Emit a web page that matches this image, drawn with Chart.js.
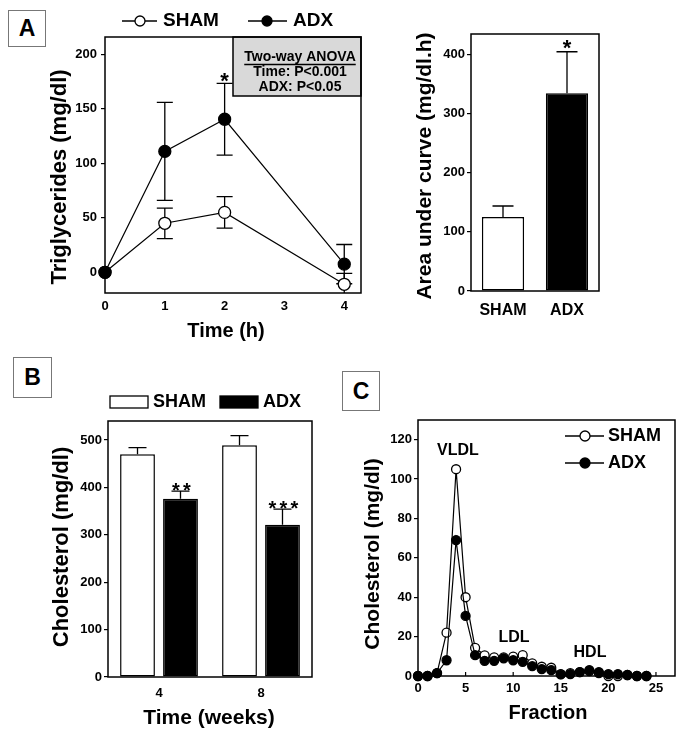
<!DOCTYPE html>
<html><head><meta charset="utf-8">
<script src="https://cdn.jsdelivr.net/npm/chart.js@4.4.0/dist/chart.umd.min.js"></script>
<style>
body{margin:0;background:#fff;width:683px;height:737px;position:relative;overflow:hidden;font-family:'Liberation Sans',Arial,sans-serif;}
canvas{position:absolute;}
.lbl{position:absolute;border:1px solid #777;background:#fff;font-weight:bold;font-size:23px;display:flex;align-items:center;justify-content:center;box-sizing:border-box;font-family:'Liberation Sans',Arial,sans-serif;}
</style></head><body>
<canvas id="cA" width="372" height="345" style="left:0;top:0"></canvas>
<canvas id="cAUC" width="311" height="345" style="left:372px;top:0"></canvas>
<canvas id="cB" width="340" height="382" style="left:0;top:355px"></canvas>
<canvas id="cC" width="343" height="382" style="left:340px;top:355px"></canvas>
<div class="lbl" style="left:8px;top:10px;width:38px;height:37px">A</div>
<div class="lbl" style="left:13px;top:357px;width:39px;height:41px">B</div>
<div class="lbl" style="left:342px;top:371px;width:38px;height:40px">C</div>
<script>
// ---- Data ----
const timeH = [0, 1, 2, 4];
const shamTG = [0, 45, 55, -11];
const shamTGErr = [0, 14, 14.5, 10];
const adxTG = [0, 111, 140.5, 7.5];
const adxTGErr = [0, 45, 33, 18];
const tgTicksX = [0, 1, 2, 3, 4];
const tgTicksY = [0, 50, 100, 150, 200];

const aucGroups = ['SHAM', 'ADX'];
const aucValues = [125, 334];
const aucErr = [18.5, 70];
const aucTicks = [0, 100, 200, 300, 400];

const weekLabels = ['4', '8'];
const shamChol = [470, 489];
const shamCholErr = [14, 20];
const adxChol = [376, 321];
const adxCholErr = [16, 33];
const cholTicks = [0, 100, 200, 300, 400, 500];

const fractions = [0,1,2,3,4,5,6,7,8,9,10,11,12,13,14,15,16,17,18,19,20,21,22,23,24];
const shamFrac = [0,0,1.5,22,105,40,14.3,10.5,9.5,9.5,9.8,10.6,6.4,4.7,4.2,1,1.5,2,2.5,1.5,0,0,0.5,0,0];
const adxFrac  = [0,0,1.5,8,69,30.5,10.6,7.7,7.7,9,8,7.2,5,3.5,3,0.8,1,2,3,2,1,1,0.5,0,0];
const fracTicksX = [0, 5, 10, 15, 20, 25];
const fracTicksY = [0, 20, 40, 60, 80, 100, 120];

// ---- Helpers ----
const FF = "'Liberation Sans', Arial, Helvetica, sans-serif";
Chart.defaults.font.family = FF;
Chart.defaults.font.weight = 'bold';
Chart.defaults.font.size = 13;
Chart.defaults.color = '#000';

function txt(ctx, s, x, y, size, o = {}) {
  ctx.save();
  ctx.font = `bold ${size}px ${FF}`;
  ctx.fillStyle = '#000';
  ctx.textAlign = o.align || 'center';
  ctx.textBaseline = o.baseline || 'middle';
  ctx.translate(x, y);
  if (o.rot) ctx.rotate(o.rot);
  ctx.fillText(s, 0, 0);
  ctx.restore();
}
function star(ctx, x, cy, size) { txt(ctx, '*', x, cy + 0.57 * size, size, {baseline: 'alphabetic'}); }
function frame(chart) {
  const {ctx, chartArea: a} = chart;
  ctx.save(); ctx.strokeStyle = '#000'; ctx.lineWidth = 1.5;
  ctx.strokeRect(a.left, a.top, a.right - a.left, a.bottom - a.top); ctx.restore();
}
function errBar(ctx, x, y0, y1, cap) {
  ctx.save(); ctx.strokeStyle = '#000'; ctx.lineWidth = 1.3;
  ctx.beginPath(); ctx.moveTo(x, y0); ctx.lineTo(x, y1);
  ctx.moveTo(x - cap, y1); ctx.lineTo(x + cap, y1); ctx.stroke(); ctx.restore();
}
function marker(ctx, x, y, r, filled) {
  ctx.save(); ctx.beginPath(); ctx.arc(x, y, r, 0, Math.PI * 2);
  ctx.fillStyle = filled ? '#000' : '#fff'; ctx.fill();
  ctx.lineWidth = 1.3; ctx.strokeStyle = '#000'; ctx.stroke(); ctx.restore();
}
function hline(ctx, x0, x1, y) {
  ctx.save(); ctx.strokeStyle = '#000'; ctx.lineWidth = 1.3;
  ctx.beginPath(); ctx.moveTo(x0, y); ctx.lineTo(x1, y); ctx.stroke(); ctx.restore();
}
const setTicks = arr => s => { s.ticks = arr.map(v => ({value: v})); };
const yGrid = {display: true, drawOnChartArea: false, drawTicks: true, tickLength: 4, color: '#000', lineWidth: 1.2};
const noGrid = {display: false, drawTicks: false};
const noBorder = {display: false};
const baseOpts = (pad) => ({
  responsive: false, animation: false, events: [],
  layout: {padding: pad},
  plugins: {legend: {display: false}, tooltip: {enabled: false}}
});
const lineDs = (label, xs, ys, filled, r, order) => ({
  label, data: xs.map((x, i) => ({x, y: ys[i]})), order,
  borderColor: '#000', borderWidth: 1.2, tension: 0, clip: false,
  pointRadius: r, pointBorderWidth: 1.3, pointBorderColor: '#000',
  pointBackgroundColor: filled ? '#000' : '#fff'
});

// ---- Panel A: triglycerides time course ----
new Chart(document.getElementById('cA'), {
  type: 'line',
  data: {datasets: [
    lineDs('ADX', timeH, adxTG, true, 6, 0),
    lineDs('SHAM', timeH, shamTG, false, 6, 1)
  ]},
  options: Object.assign(baseOpts({left: 0, top: 37, right: 11, bottom: 0}), {
    scales: {
      x: {type: 'linear', min: 0, max: 4.28, afterBuildTicks: setTicks(tgTicksX),
          afterFit: s => { s.height = 52; }, grid: noGrid, border: noBorder,
          ticks: {padding: 6, font: {size: 13, weight: 'bold'}}},
      y: {type: 'linear', min: -19, max: 216, afterBuildTicks: setTicks(tgTicksY),
          afterFit: s => { s.width = 105; }, grid: yGrid, border: noBorder,
          ticks: {padding: 4, font: {size: 13, weight: 'bold'}}}
    }
  }),
  plugins: [{
    id: 'decA',
    beforeDatasetsDraw(chart) {
      const {ctx, chartArea: a, scales: {x, y}} = chart;
      ctx.save(); ctx.beginPath(); ctx.rect(a.left, a.top, a.right - a.left, a.bottom - a.top); ctx.clip();
      [[shamTG, shamTGErr], [adxTG, adxTGErr]].forEach(([v, e]) => {
        v.forEach((val, i) => {
          if (!e[i]) return;
          const px = x.getPixelForValue(timeH[i]);
          errBar(ctx, px, y.getPixelForValue(val), y.getPixelForValue(val + e[i]), 8);
          errBar(ctx, px, y.getPixelForValue(val), y.getPixelForValue(val - e[i]), 8);
        });
      });
      ctx.restore();
    },
    afterDraw(chart) {
      const {ctx, scales: {x, y}} = chart;
      // ANOVA box
      ctx.save(); ctx.fillStyle = '#d9d9d9'; ctx.fillRect(233, 37, 128, 59);
      ctx.strokeStyle = '#000'; ctx.lineWidth = 1.5; ctx.strokeRect(233, 37, 128, 59); ctx.restore();
      frame(chart);
      txt(ctx, 'Two-way ANOVA', 300, 57, 14);
      ctx.save(); ctx.font = `bold 14px ${FF}`; const w = ctx.measureText('Two-way ANOVA').width; ctx.restore();
      hline(ctx, 300 - w / 2, 300 + w / 2, 64.5);
      txt(ctx, 'Time: P<0.001', 300, 72.5, 14);
      txt(ctx, 'ADX: P<0.05', 300, 87.5, 14);
      // legend
      hline(ctx, 122, 157, 21); marker(ctx, 140, 21, 5, false);
      txt(ctx, 'SHAM', 163, 21, 19, {align: 'left'});
      hline(ctx, 248, 287, 21); marker(ctx, 267, 21, 5, true);
      txt(ctx, 'ADX', 293, 21, 19, {align: 'left'});
      // titles
      txt(ctx, 'Triglycerides (mg/dl)', 60, 177, 22, {rot: -Math.PI / 2});
      txt(ctx, 'Time (h)', 226, 331, 20);
      // significance
      star(ctx, x.getPixelForValue(timeH[2]), y.getPixelForValue(adxTG[2] + adxTGErr[2]) - 8, 22);
    }
  }]
});

// ---- Panel A: AUC ----
new Chart(document.getElementById('cAUC'), {
  type: 'bar',
  data: {labels: aucGroups, datasets: [{
    data: aucValues, backgroundColor: ['#fff', '#000'], borderColor: '#000', borderWidth: 1.5,
    borderSkipped: false, categoryPercentage: 1, barPercentage: 0.66
  }]},
  options: Object.assign(baseOpts({left: 0, top: 34, right: 84, bottom: 0}), {
    scales: {
      x: {afterFit: s => { s.height = 54; }, grid: noGrid, border: noBorder,
          ticks: {padding: 10, font: {size: 16, weight: 'bold'}}},
      y: {type: 'linear', min: 0, max: 434, afterBuildTicks: setTicks(aucTicks),
          afterFit: s => { s.width = 99; }, grid: yGrid, border: noBorder,
          ticks: {padding: 2, font: {size: 13, weight: 'bold'}}}
    }
  }),
  plugins: [{
    id: 'decAUC',
    afterDraw(chart) {
      const {ctx, scales: {y}} = chart;
      const meta = chart.getDatasetMeta(0);
      aucValues.forEach((v, i) => {
        errBar(ctx, meta.data[i].x, y.getPixelForValue(v), y.getPixelForValue(v + aucErr[i]), 10.5);
      });
      frame(chart);
      txt(ctx, 'Area under curve (mg/dl.h)', 53, 166, 21, {rot: -Math.PI / 2});
      star(ctx, meta.data[1].x, y.getPixelForValue(aucValues[1] + aucErr[1]) - 9, 22);
    }
  }]
});

// ---- Panel B: cholesterol ----
new Chart(document.getElementById('cB'), {
  type: 'bar',
  data: {labels: weekLabels, datasets: [
    {label: 'SHAM', data: shamChol, backgroundColor: '#fff', borderColor: '#000', borderWidth: 1.5,
     borderSkipped: false, categoryPercentage: 0.843, barPercentage: 0.81},
    {label: 'ADX', data: adxChol, backgroundColor: '#000', borderColor: '#000', borderWidth: 1.5,
     borderSkipped: false, categoryPercentage: 0.843, barPercentage: 0.81}
  ]},
  options: Object.assign(baseOpts({left: 0, top: 66, right: 28, bottom: 0}), {
    scales: {
      x: {afterFit: s => { s.height = 60; }, grid: noGrid, border: noBorder,
          ticks: {padding: 9, font: {size: 13, weight: 'bold'}}},
      y: {type: 'linear', min: 0, max: 540, afterBuildTicks: setTicks(cholTicks),
          afterFit: s => { s.width = 108; }, grid: yGrid, border: noBorder,
          ticks: {padding: 2, font: {size: 13, weight: 'bold'}}}
    }
  }),
  plugins: [{
    id: 'decB',
    afterDraw(chart) {
      const {ctx, scales: {y}} = chart;
      [[shamChol, shamCholErr], [adxChol, adxCholErr]].forEach(([v, e], d) => {
        const meta = chart.getDatasetMeta(d);
        v.forEach((val, i) => errBar(ctx, meta.data[i].x, y.getPixelForValue(val), y.getPixelForValue(val + e[i]), 9));
      });
      frame(chart);
      const m = chart.getDatasetMeta(1);
      const stars = ['**', '***'];
      stars.forEach((s, i) => {
        const cy = y.getPixelForValue(adxChol[i] + adxCholErr[i]) - 6;
        const n = s.length;
        for (let k = 0; k < n; k++) star(ctx, m.data[i].x + 1 + (k - (n - 1) / 2) * 11, cy, 20);
      });
      // legend (canvas offset y 355)
      ctx.save(); ctx.lineWidth = 1.3; ctx.strokeStyle = '#000';
      ctx.fillStyle = '#fff'; ctx.fillRect(110, 41, 38, 12); ctx.strokeRect(110, 41, 38, 12);
      ctx.fillStyle = '#000'; ctx.fillRect(220, 41, 38, 12); ctx.strokeRect(220, 41, 38, 12);
      ctx.restore();
      txt(ctx, 'SHAM', 153, 47, 18, {align: 'left'});
      txt(ctx, 'ADX', 263, 47, 18, {align: 'left'});
      txt(ctx, 'Cholesterol (mg/dl)', 62, 192, 22, {rot: -Math.PI / 2});
      txt(ctx, 'Time (weeks)', 209, 363, 21);
    }
  }]
});

// ---- Panel C: FPLC profile ----
new Chart(document.getElementById('cC'), {
  type: 'line',
  data: {datasets: [
    lineDs('ADX', fractions, adxFrac, true, 4.5, 0),
    lineDs('SHAM', fractions, shamFrac, false, 4.5, 1)
  ]},
  options: Object.assign(baseOpts({left: 0, top: 65, right: 8, bottom: 0}), {
    scales: {
      x: {type: 'linear', min: 0, max: 27, afterBuildTicks: setTicks(fracTicksX),
          afterFit: s => { s.height = 61; }, grid: noGrid, border: noBorder,
          ticks: {padding: 5, font: {size: 13, weight: 'bold'}}},
      y: {type: 'linear', min: 0, max: 130, afterBuildTicks: setTicks(fracTicksY),
          afterFit: s => { s.width = 78; }, grid: yGrid, border: noBorder,
          ticks: {padding: 2, font: {size: 13, weight: 'bold'}}}
    }
  }),
  plugins: [{
    id: 'decC',
    beforeDatasetsDraw(chart) {
      const {ctx, chartArea: a, scales: {x}} = chart;
      ctx.save(); ctx.strokeStyle = '#000'; ctx.lineWidth = 1.2; ctx.beginPath();
      fracTicksX.forEach(t => { const px = x.getPixelForValue(t); ctx.moveTo(px, a.bottom); ctx.lineTo(px, a.bottom - 4); });
      ctx.stroke(); ctx.restore();
    },
    afterDraw(chart) {
      const {ctx} = chart;
      frame(chart);
      // legend (canvas offset x 340, y 355)
      hline(ctx, 225, 264, 81); marker(ctx, 245, 81, 5, false);
      txt(ctx, 'SHAM', 268, 81, 18, {align: 'left'});
      hline(ctx, 225, 264, 108); marker(ctx, 245, 108, 5, true);
      txt(ctx, 'ADX', 268, 108, 18, {align: 'left'});
      txt(ctx, 'VLDL', 118, 96, 16);
      txt(ctx, 'LDL', 174, 283, 16);
      txt(ctx, 'HDL', 250, 298, 16);
      txt(ctx, 'Cholesterol (mg/dl)', 33, 199, 21, {rot: -Math.PI / 2});
      txt(ctx, 'Fraction', 208, 358, 20);
    }
  }]
});
</script>
</body></html>
